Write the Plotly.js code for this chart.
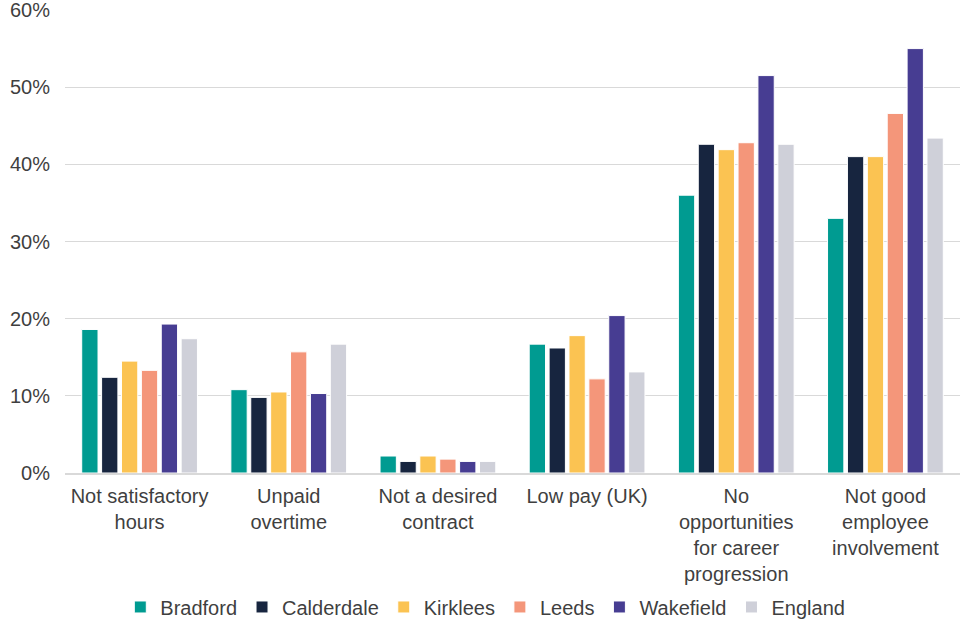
<!DOCTYPE html>
<html>
<head>
<meta charset="utf-8">
<script src="https://cdn.plot.ly/plotly-3.0.1.min.js"></script>
<style>html,body{margin:0;padding:0;background:#fff;}#chart{width:961px;height:620px;}</style>
</head>
<body>
<div id="chart"></div>
<script>
const categories = ["Not satisfactory<br>hours", "Unpaid<br>overtime", "Not a desired<br>contract", "Low pay (UK)", "No<br>opportunities<br>for career<br>progression", "Not good<br>employee<br>involvement"];
const seriesNames = ["Bradford", "Calderdale", "Kirklees", "Leeds", "Wakefield", "England"];
const bradford   = [18.6, 10.8, 2.2, 16.7, 36.0, 33.0];
const calderdale = [12.4, 9.8, 1.5, 16.2, 42.6, 41.0];
const kirklees   = [14.5, 10.5, 2.2, 17.8, 41.9, 41.0];
const leeds      = [13.3, 15.7, 1.8, 12.2, 42.8, 46.6];
const wakefield  = [19.3, 10.3, 1.5, 20.4, 51.5, 55.0];
const england    = [17.4, 16.7, 1.5, 13.1, 42.6, 43.4];
const colors = ["#009b91", "#17253f", "#fbc352", "#f4967a", "#473d92", "#cfd0d9"];

const values = [bradford, calderdale, kirklees, leeds, wakefield, england];
const traces = values.map((v, i) => ({
  type: "bar",
  name: seriesNames[i],
  x: categories,
  y: v,
  marker: {color: colors[i], line: {color: "#ffffff", width: 1}},
  hoverinfo: "none"
}));

const layout = {
  width: 961, height: 620,
  margin: {l: 65, r: 1, t: 10, b: 147},
  paper_bgcolor: "#ffffff", plot_bgcolor: "#ffffff",
  font: {family: "'Liberation Sans', Arial, sans-serif", size: 20, color: "#3f3f3f"},
  barmode: "group",
  bargap: 0.2,
  bargroupgap: 0.18,
  xaxis: {
    showline: true, linecolor: "#d9d9d9", linewidth: 2,
    ticks: "", tickfont: {size: 20, color: "#3f3f3f"},
    showgrid: false, ticklabelstandoff: 4
  },
  yaxis: {
    range: [0, 60], dtick: 10, ticksuffix: "%",
    showgrid: true, gridcolor: "#d9d9d9", gridwidth: 1.3,
    zeroline: false, ticks: "", ticklen: 0, ticklabelstandoff: 14,
    ticklabeloverflow: "allow",
    tickfont: {size: 20, color: "#3f3f3f"}
  },
  showlegend: true,
  legend: {
    orientation: "h", xref: "container", yref: "container",
    x: 0.505, xanchor: "center", y: 0.021, yanchor: "middle",
    font: {size: 20, color: "#3f3f3f"},
    itemwidth: 30, tracegroupgap: 0
  }
};

Plotly.newPlot("chart", traces, layout, {displayModeBar: false, staticPlot: true});
</script>
</body>
</html>
